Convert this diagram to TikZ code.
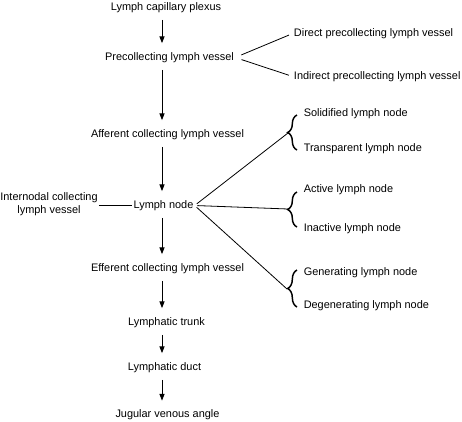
\documentclass[tikz,border=0pt]{standalone}
\usepackage{fontspec}
\setmainfont{Liberation Sans}
\usetikzlibrary{arrows.meta,decorations.pathreplacing}

\tikzset{
  lbl/.style={inner sep=0.75pt, font=\fontsize{8.2}{9.75}\selectfont},
  flow/.style={line width=0.65pt, -{Triangle[length=5pt,width=3.8pt]}, shorten <=4.5pt, shorten >=6pt},
  twig/.style={line width=0.6pt},
  curly/.style={line width=1.1pt, decorate, decoration={brace, amplitude=7pt}}
}

\begin{document}
\begin{tikzpicture}[x=0.75pt,y=0.75pt,yscale=-1,xscale=1]
\useasboundingbox (0,0) rectangle (462,422);
\coordinate (axis) at (162,0);

% main column
\node[lbl] (plexus) at (166,7.5) {Lymph capillary plexus};
\node[lbl] (precol) at (169.5,57.5) {Precollecting lymph vessel};
\node[lbl] (afferent) at (167.5,134.5) {Afferent collecting lymph vessel};
\node[lbl] (lnode) at (163.5,205.5) {Lymph node};
\node[lbl] (efferent) at (167.5,268.5) {Efferent collecting lymph vessel};
\node[lbl] (trunk) at (166.5,322.5) {Lymphatic trunk};
\node[lbl] (duct) at (164.5,367.5) {Lymphatic duct};
\node[lbl] (angle) at (167.5,415) {Jugular venous angle};
\node[lbl, align=center] (internodal) at (49,204) {Internodal collecting\\lymph vessel};

\draw[flow] (plexus.south -| axis) -- (precol.north -| axis);
\draw[flow] (precol.south -| axis) -- (afferent.north -| axis);
\draw[flow] (afferent.south -| axis) -- (lnode.north -| axis);
\draw[flow] (lnode.south -| axis) -- (efferent.north -| axis);
\draw[flow] (efferent.south -| axis) -- (trunk.north -| axis);
\draw[flow] (trunk.south -| axis) -- (duct.north -| axis);
\draw[flow] (duct.south -| axis) -- (angle.north -| axis);
\draw[twig] (internodal.east |- lnode) -- (lnode.west);

% precollecting branches
\node[lbl, anchor=west] (direct) at (292.7,33.5) {Direct precollecting lymph vessel};
\node[lbl, anchor=west] (indirect) at (292.7,76.5) {Indirect precollecting lymph vessel};
\draw[twig, shorten <=5pt, shorten >=3pt] (precol.east) -- (direct.west);
\draw[twig, shorten <=5pt, shorten >=3pt] (precol.east) -- (indirect.west);

% lymph node types
\node[lbl, anchor=west] (solid) at (302.5,113.5) {Solidified lymph node};
\node[lbl, anchor=west] (transp) at (302.5,148.5) {Transparent lymph node};
\node[lbl, anchor=west] (active) at (302.5,189.5) {Active lymph node};
\node[lbl, anchor=west] (inactive) at (302.5,228.5) {Inactive lymph node};
\node[lbl, anchor=west] (gen) at (302.5,272.5) {Generating lymph node};
\node[lbl, anchor=west] (degen) at (302.5,305.5) {Degenerating lymph node};

\draw[curly] (297,150) -- (297,115);
\draw[curly] (297,227) -- (297,192);
\draw[curly] (297,307) -- (297,270);
\coordinate (tipa) at (288,133);
\coordinate (tipb) at (288,209);
\coordinate (tipc) at (287,289);

\draw[twig, shorten <=2pt] (lnode.east) -- (tipa);
\draw[twig, shorten <=2pt] (lnode.east) -- (tipb);
\draw[twig, shorten <=2pt] (lnode.east) -- (tipc);
\end{tikzpicture}
\end{document}
